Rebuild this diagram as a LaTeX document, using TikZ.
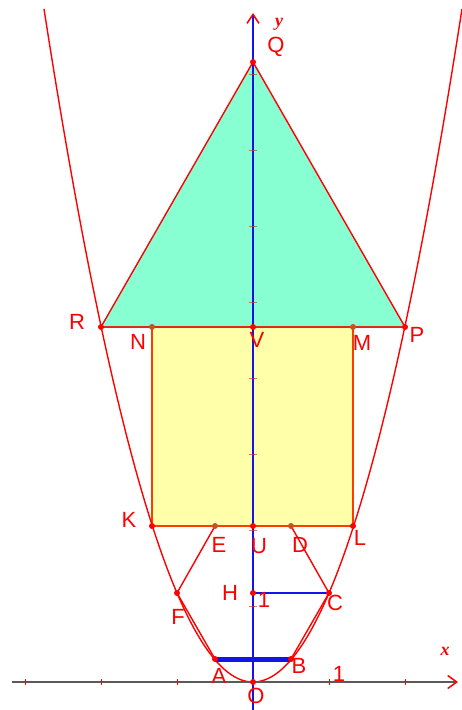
\documentclass[tikz,border=0pt]{standalone}
\usepackage{fontspec}
\setmainfont{Liberation Sans}
\newfontfamily\serifax{Liberation Serif}
\usetikzlibrary{arrows.meta}
\definecolor{tri}{RGB}{136,255,210}
\definecolor{sq}{RGB}{255,255,170}
\definecolor{sqedge}{RGB}{255,60,0}
\definecolor{baseedge}{RGB}{215,45,25}
\definecolor{axblue}{RGB}{20,20,230}
\definecolor{axgray}{RGB}{90,90,90}
\definecolor{dotdark}{RGB}{200,80,40}
\begin{document}
\begin{tikzpicture}[x=1pt,y=-1pt,
  pt/.style={circle,fill=red,inner sep=0pt,minimum size=6pt},
  ptdark/.style={circle,fill=dotdark,inner sep=0pt,minimum size=6pt},
  lbl/.style={text=red,font=\fontsize{22}{24}\selectfont,inner sep=0pt},
  axlbl/.style={text=red,font=\serifax\bfseries\itshape\fontsize{18}{18}\selectfont,inner sep=0pt},
  redline/.style={red,line width=1.4pt},
  tick/.style={red,line width=1pt},
  ytick/.style={red!50!gray,line width=1pt,opacity=0.7}
]
\useasboundingbox (0,0) rectangle (461,710);

% coordinates
\coordinate (Q) at (253,62);
\coordinate (R) at (101,327);
\coordinate (P) at (405,327);
\coordinate (N) at (152,327);
\coordinate (M) at (353,327);
\coordinate (V) at (253,327);
\coordinate (K) at (152,526);
\coordinate (L) at (353,526);
\coordinate (U) at (253,526);
\coordinate (E) at (215,526);
\coordinate (D) at (291,526);
\coordinate (F) at (177,593);
\coordinate (C) at (329,593);
\coordinate (H) at (253,593);
\coordinate (A) at (215,659);
\coordinate (B) at (291,659);
\coordinate (O) at (253,682);
\coordinate (xs) at (12,682);
\coordinate (xe) at (458,682);
\coordinate (ys) at (253,712);
\coordinate (ye) at (253,13);

% square
\fill[sq] (K) -- (L) -- (M) -- (N) -- cycle;
\draw[sqedge,line width=1.4pt] (N) -- (K) -- (L) -- (M);
% triangle
\fill[tri] (R) -- (Q) -- (P) -- cycle;
\draw[redline] (R) -- (Q) -- (P);
\draw[baseedge,line width=1.6pt] (R) -- (P);

% parabola
\draw[redline] plot[domain=-2.75:2.75,samples=150,smooth] ({253+76*\x},{682-89*\x*\x});

% x axis
\draw[axgray,line width=1.2pt,-{Straight Barb[red,length=9pt,width=13pt,line width=1.5pt]}] (xs) -- (xe);
\foreach \t in {25,101,177,329,405} \draw[tick] (\t,679) -- (\t,685);

% y axis
\draw[axblue,line width=2.3pt,-{Straight Barb[red,length=9pt,width=12pt,line width=1.5pt]}] (ys) -- (ye);
\foreach \k in {1,...,8} \draw[ytick] (249,682-76*\k) -- (257,682-76*\k);

% chords
\draw[redline] (E) -- (F) -- (A);
\draw[redline] (D) -- (C) -- (B);
\draw[axblue,line width=1.3pt] (H) -- (C);
\draw[axblue,line width=5pt] (A) -- (B);

% points
\foreach \p in {Q,R,P,V,K,L,U,F,C,H,A,B,O} \node[pt] (d\p) at (\p) {};
\foreach \p in {N,M,E,D} \node[ptdark] (d\p) at (\p) {};

% labels
\node[lbl] (lQ) at (276,47) {Q};
\node[lbl] (lR) at (77,322) {R};
\node[lbl] (lP) at (417,335) {P};
\node[lbl] (lN) at (138,342) {N};
\node[lbl] (lV) at (257,340) {V};
\node[lbl] (lM) at (362,343) {M};
\node[lbl] (lK) at (129,520) {K};
\node[lbl] (lL) at (360,538) {L};
\node[lbl] (lU) at (259,546) {U};
\node[lbl] (lE) at (219,545) {E};
\node[lbl] (lD) at (300,545) {D};
\node[lbl] (lH) at (230,593) {H};
\node[lbl] (l1y) at (264,600) {1};
\node[lbl] (lC) at (335,603) {C};
\node[lbl] (lF) at (178,617) {F};
\node[lbl] (lA) at (219,676) {A};
\node[lbl] (lB) at (299,666) {B};
\node[lbl] (lO) at (256,696) {O};
\node[lbl] (l1x) at (339,674) {1};
\node[axlbl] (lx) at (445,651) {x};
\node[axlbl] (ly) at (279,24) {y};
\end{tikzpicture}
\end{document}
